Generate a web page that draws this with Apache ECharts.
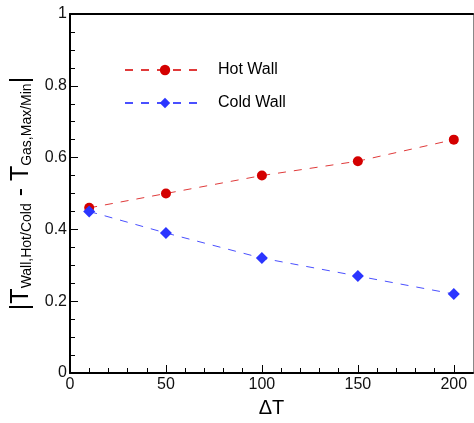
<!DOCTYPE html>
<html>
<head>
<meta charset="utf-8">
<script src="https://cdn.jsdelivr.net/npm/echarts@6/dist/echarts.min.js"></script>
<style>html,body{margin:0;padding:0;background:#fff}#c{width:474px;height:423px}</style>
</head>
<body>
<div id="c"></div>
<script>
const deltaT = [10, 50, 100, 150, 200];
const hotWall = [0.46, 0.50, 0.55, 0.59, 0.65];
const coldWall = [0.45, 0.39, 0.32, 0.27, 0.22];
const xMajorTicks = [0, 50, 100, 150, 200];
const xMinorTicks = [10, 20, 30, 40, 60, 70, 80, 90, 110, 120, 130, 140, 160, 170, 180, 190];
const seriesNames = ['Hot Wall', 'Cold Wall'];

const FONT = 'Liberation Sans, Arial, sans-serif';
const chart = echarts.init(document.getElementById('c'), null, {renderer: 'canvas'});
const pairs = (xs, ys) => xs.map((x, i) => [x, ys[i]]);

chart.setOption({
  animation: false,
  backgroundColor: '#fff',
  grid: {left: 70, right: 1, top: 14, bottom: 50, containLabel: false},
  legend: {
    orient: 'vertical', left: 124, top: 60, padding: 0,
    itemWidth: 80, itemHeight: 13, itemGap: 13,
    textStyle: {fontFamily: FONT, fontSize: 16, color: '#000', lineHeight: 20, padding: [0, 0, 0, 8]},
    data: seriesNames
  },
  xAxis: [
    {
      type: 'value', position: 'bottom', min: 0, max: 210, interval: 50,
      name: 'ΔT', nameLocation: 'middle', nameGap: 25,
      nameTextStyle: {fontFamily: FONT, fontSize: 20, color: '#000'},
      axisLine: {show: true, onZero: false, lineStyle: {color: '#000', width: 2}},
      axisTick: {show: true, inside: true, length: 8, customValues: xMajorTicks, lineStyle: {color: '#000', width: 1}},
      axisLabel: {show: true, customValues: xMajorTicks, margin: 4, fontFamily: FONT, fontSize: 16, color: '#111'},
      splitLine: {show: false}
    },
    {
      type: 'value', position: 'bottom', offset: 0, min: 0, max: 210,
      axisLine: {show: false},
      axisTick: {show: true, inside: true, length: 5, customValues: xMinorTicks, lineStyle: {color: '#000', width: 1}},
      axisLabel: {show: false},
      splitLine: {show: false}
    },
    {
      type: 'value', position: 'top', min: 0, max: 210,
      axisLine: {show: true, onZero: false, lineStyle: {color: '#000', width: 2}},
      axisTick: {show: false}, axisLabel: {show: false}, splitLine: {show: false}
    }
  ],
  yAxis: [
    {
      type: 'value', position: 'left', min: 0, max: 1, interval: 0.2,
      name: '{b||T}{s|Wall,Hot/Cold}{b| - T}{s|Gas,Max/Min}{b||}',
      nameLocation: 'middle', nameRotate: 90, nameGap: 36,
      nameTextStyle: {
        fontFamily: FONT, color: '#000',
        rich: {
          b: {fontFamily: FONT, fontSize: 25, lineHeight: 29, color: '#000', verticalAlign: 'bottom'},
          s: {fontFamily: FONT, fontSize: 14, lineHeight: 14, color: '#000', verticalAlign: 'bottom'}
        }
      },
      axisLine: {show: true, onZero: false, lineStyle: {color: '#000', width: 2}},
      axisTick: {show: true, inside: true, length: 8, lineStyle: {color: '#000', width: 1}},
      minorTick: {show: true, splitNumber: 4, length: 5, lineStyle: {color: '#000', width: 1}},
      axisLabel: {show: true, margin: 3, fontFamily: FONT, fontSize: 16, color: '#111',
        formatter: v => String(Math.round(v * 10) / 10)},
      splitLine: {show: false}
    },
    {
      type: 'value', position: 'right', min: 0, max: 1,
      axisLine: {show: true, onZero: false, lineStyle: {color: '#888', width: 1}},
      axisTick: {show: false}, axisLabel: {show: false}, splitLine: {show: false}
    }
  ],
  series: [
    {
      name: seriesNames[0], type: 'line', xAxisIndex: 0, yAxisIndex: 0,
      data: pairs(deltaT, hotWall),
      symbol: 'circle', symbolSize: 10,
      itemStyle: {color: '#d40000'},
      lineStyle: {color: '#e03a3a', width: 1, type: [8, 8]}
    },
    {
      name: seriesNames[1], type: 'line', xAxisIndex: 0, yAxisIndex: 0,
      data: pairs(deltaT, coldWall),
      symbol: 'diamond', symbolSize: [12, 12],
      itemStyle: {color: '#2b35ff'},
      lineStyle: {color: '#4a50ff', width: 1, type: [8, 8]}
    }
  ]
});
</script>
</body>
</html>
